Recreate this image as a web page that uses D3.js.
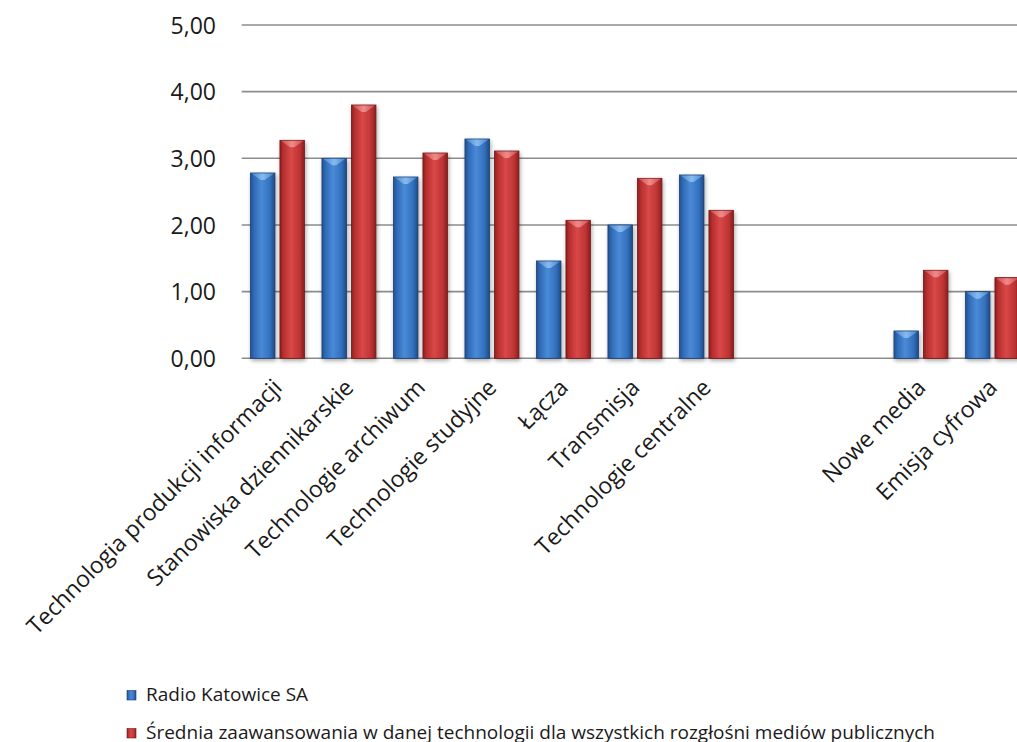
<!DOCTYPE html>
<html><head><meta charset="utf-8">
<script src="https://cdn.jsdelivr.net/npm/d3@7"></script>
<style>body{margin:0;background:#fff;overflow:hidden}svg{display:block}text{font-family:"Open Sans",sans-serif;fill:#1a1a1a}</style>
</head><body><svg id="c" width="1017" height="742"></svg>
<script>
const categories = ["Technologia produkcji informacji","Stanowiska dziennikarskie","Technologie archiwum","Technologie studyjne","Łącza","Transmisja","Technologie centralne","","","Nowe media","Emisja cyfrowa"];
const radioKatowice = [2.78,3.00,2.72,3.29,1.46,2.00,2.75,null,null,0.41,1.00];
const srednia = [3.27,3.80,3.08,3.11,2.07,2.70,2.22,null,null,1.32,1.21];
const seriesNames = ["Radio Katowice SA","Średnia zaawansowania w danej technologii dla wszystkich rozgłośni mediów publicznych"];
const yTicks = [0,1,2,3,4,5];

const svg = d3.select("#c");
const left = 241.7, step = 71.5;
const x = d3.scaleBand().domain(d3.range(categories.length)).range([left, left + step*categories.length]).paddingInner(0).paddingOuter(0);
const y = d3.scaleLinear().domain([0,5]).range([358.3, 25]);

const defs = svg.append("defs");
function grad(id, stops){
  const g = defs.append("linearGradient").attr("id",id).attr("x1","0").attr("x2","1").attr("y1","0").attr("y2","0");
  stops.forEach(s=>g.append("stop").attr("offset",s[0]).attr("stop-color",s[1]));
}
grad("gB",[[0,"#23508f"],[0.15,"#2f6bb8"],[0.45,"#4a8ad6"],[0.8,"#3270bd"],[1,"#1f4a85"]]);
grad("gR",[[0,"#8f2020"],[0.15,"#b83030"],[0.45,"#d94848"],[0.8,"#be3434"],[1,"#8a1e1e"]]);
grad("gBt",[[0,"#4d8ad0"],[0.5,"#8ec0f2"],[1,"#4d8ad0"]]);
grad("gRt",[[0,"#d05050"],[0.5,"#f29292"],[1,"#d05050"]]);
const f = defs.append("filter").attr("id","sh").attr("x","-30%").attr("y","-10%").attr("width","160%").attr("height","130%");
f.append("feGaussianBlur").attr("in","SourceAlpha").attr("stdDeviation",2);
f.append("feOffset").attr("dx",1).attr("dy",2).attr("result","o");
f.append("feComponentTransfer").append("feFuncA").attr("type","linear").attr("slope",0.35);
const m = f.append("feMerge"); m.append("feMergeNode"); m.append("feMergeNode").attr("in","SourceGraphic");

// gridlines
svg.append("g").selectAll("line").data(yTicks).join("line")
  .attr("x1",left).attr("x2",1017).attr("y1",d=>y(d)).attr("y2",d=>y(d))
  .attr("stroke","#8c8c8c").attr("stroke-width",1.6);

// y axis labels
const yAxis = d3.axisLeft(y).tickValues(yTicks).tickSize(0).tickPadding(0).tickFormat(d=>d3.format(".2f")(d).replace(".",","));
const ga = svg.append("g").attr("transform","translate(216,0)").call(yAxis);
ga.select(".domain").remove();
ga.selectAll("text").attr("font-size",23).attr("fill","#1a1a1a").style("font-family","'Open Sans',sans-serif").attr("dy","0.36em");

const bw = 24.5, gap = 5;
const series = [{vals:radioKatowice, fill:"url(#gB)", top:"url(#gBt)", stroke:"#1c3f70", off:-(bw+gap/2)},
                {vals:srednia, fill:"url(#gR)", top:"url(#gRt)", stroke:"#701818", off:gap/2}];
series.forEach(s=>{
  const data = s.vals.map((v,i)=>({v,i})).filter(d=>d.v!=null);
  const g = svg.append("g").selectAll("g").data(data).join("g").attr("filter","url(#sh)");
  g.append("rect").attr("x",d=>x(d.i)+x.bandwidth()/2+s.off).attr("y",d=>y(d.v)).attr("width",bw).attr("height",d=>y(0)-y(d.v))
    .attr("fill",s.fill).attr("stroke",s.stroke).attr("stroke-width",0.8);
  g.append("path").attr("d",d=>{const x0=x(d.i)+x.bandwidth()/2+s.off, y0=y(d.v);
      return `M${x0+1},${y0+0.5}L${x0+bw-1},${y0+0.5}L${x0+bw*0.5+2},${y0+7}L${x0+bw*0.5-2},${y0+7}Z`;})
    .attr("fill",s.top).attr("opacity",0.9);
});

// x labels
svg.append("g").selectAll("text").data(categories.map((c,i)=>({c,i}))).join("text")
  .attr("transform",d=>`translate(${x(d.i)+x.bandwidth()/2+6},${389}) rotate(-45)`)
  .attr("text-anchor","end").attr("font-size",23).text(d=>d.c);

// legend
const lg = svg.append("g").selectAll("g").data(seriesNames).join("g")
  .attr("transform",(d,i)=>`translate(127,${695+i*38})`);
lg.append("rect").attr("x",0).attr("y",-4.5).attr("width",9).attr("height",9.5)
  .attr("fill",(d,i)=>i?"url(#gR)":"url(#gB)").attr("stroke",(d,i)=>i?"#701818":"#1c3f70").attr("stroke-width",0.6);
lg.append("text").attr("x",19).attr("y",6.3).attr("font-size",19).text(d=>d);
</script></body></html>
